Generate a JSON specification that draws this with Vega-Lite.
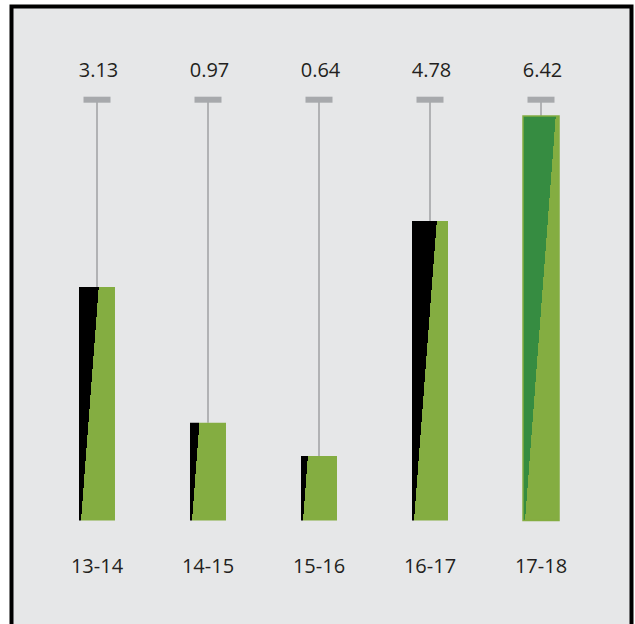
{
  "$schema": "https://vega.github.io/schema/vega-lite/v6.json",
  "autosize": "none",
  "width": 620,
  "height": 620,
  "padding": {"left": 11.5, "top": 6.5, "right": 3.5, "bottom": -3},
  "background": "#ffffff",
  "view": {"fill": "#e6e7e8", "stroke": "#000000", "strokeWidth": 4},
  "config": {
    "font": "Open Sans",
    "axis": {"domain": false, "grid": false, "ticks": false, "labels": false, "title": null}
  },
  "data": {
    "values": [
      {"season": "13-14", "value": "3.13", "level": 55.5},
      {"season": "14-15", "value": "0.97", "level": 23.2},
      {"season": "15-16", "value": "0.64", "level": 15.3},
      {"season": "16-17", "value": "4.78", "level": 71.2},
      {"season": "17-18", "value": "6.42", "level": 96.1}
    ]
  },
  "encoding": {
    "x": {
      "field": "season",
      "type": "nominal",
      "sort": null,
      "axis": null,
      "scale": {"type": "band", "range": [30, 585], "paddingInner": 0.6757, "paddingOuter": 0.3378}
    }
  },
  "layer": [
    {
      "mark": {"type": "rule", "color": "#b1b2b4", "strokeWidth": 2},
      "encoding": {
        "y": {"field": "level", "type": "quantitative", "axis": null,
              "scale": {"domain": [0, 100], "range": [514, 93.2], "nice": false, "zero": false}},
        "y2": {"datum": 100}
      }
    },
    {
      "mark": {"type": "tick", "color": "#a7a9ac", "size": 27, "thickness": 6, "orient": "horizontal", "opacity": 1},
      "encoding": {"y": {"datum": 100, "type": "quantitative"}}
    },
    {
      "mark": {
        "type": "bar",
        "fill": {"expr": "{gradient: 'linear', x1: 0, y1: 0, x2: 1, y2: 0.008884 * datum.level, stops: [{offset: 0, color: datum.season === '17-18' ? '#368c41' : '#000000'}, {offset: (0.0556 + 0.008884 * datum.level) / (1 + pow(0.008884 * datum.level, 2)), color: datum.season === '17-18' ? '#368c41' : '#000000'}, {offset: (0.0556 + 0.008884 * datum.level) / (1 + pow(0.008884 * datum.level, 2)), color: '#84ad41'}, {offset: 1, color: '#84ad41'}]}"},
        "stroke": {"expr": "datum.season === '17-18' ? '#84ad41' : null"},
        "strokeWidth": 1.5
      },
      "encoding": {
        "y": {"field": "level", "type": "quantitative"},
        "y2": {"datum": 0}
      }
    },
    {
      "mark": {"type": "text", "fontSize": 20, "color": "#231f20", "baseline": "alphabetic", "dx": 1.5, "dy": -22.4},
      "encoding": {
        "y": {"datum": 100, "type": "quantitative"},
        "text": {"field": "value"}
      }
    },
    {
      "mark": {"type": "text", "fontSize": 20, "color": "#231f20", "baseline": "alphabetic", "dy": 52.8},
      "encoding": {
        "y": {"datum": 0, "type": "quantitative"},
        "text": {"field": "season"}
      }
    }
  ]
}
